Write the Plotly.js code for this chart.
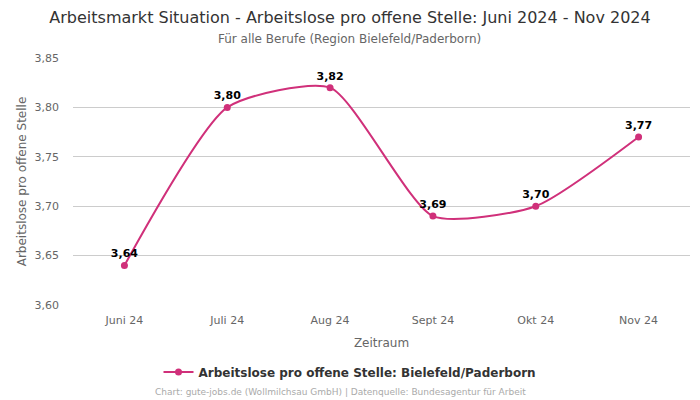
<!DOCTYPE html>
<html>
<head>
<meta charset="utf-8">
<script src="https://cdn.plot.ly/plotly-3.0.1.min.js"></script>
<style>html,body{margin:0;padding:0;background:#fff;}#chart{width:700px;height:400px;}</style>
</head>
<body>
<div id="chart"></div>
<script>
const categories = ["Juni 24", "Juli 24", "Aug 24", "Sept 24", "Okt 24", "Nov 24"];
const values = [3.64, 3.80, 3.82, 3.69, 3.70, 3.77];
const seriesName = "Arbeitslose pro offene Stelle: Bielefeld/Paderborn";
const yTicks = [3.60, 3.65, 3.70, 3.75, 3.80, 3.85];

const color = "#d0307a";
const font = "DejaVu Sans, sans-serif";

const trace = {
  x: categories,
  y: values,
  name: seriesName,
  type: "scatter",
  mode: "lines+markers+text",
  line: {color: color, width: 2, shape: "spline", smoothing: 0.6},
  marker: {color: color, size: 7},
  texttemplate: "%{y:.2f}",
  textposition: "top center",
  textfont: {family: font, size: 11, color: "#000", weight: "bold"},
  cliponaxis: false
};

const layout = {
  width: 700, height: 400,
  separators: ",.",
  font: {family: font, color: "#666"},
  paper_bgcolor: "#fff", plot_bgcolor: "#fff",
  margin: {l: 73, r: 10, t: 58, b: 95, autoexpand: false},
  title: {
    text: "Arbeitsmarkt Situation - Arbeitslose pro offene Stelle: Juni 2024 - Nov 2024",
    font: {family: font, size: 16, color: "#333"},
    x: 0.5, xanchor: "center", xref: "container",
    y: 1 - 17 / 400, yanchor: "middle", yref: "container"
  },
  xaxis: {
    type: "category",
    range: [-0.5, 5.5],
    showgrid: false,
    showline: false,
    ticks: "",
    ticklabelstandoff: 7,
    tickfont: {family: font, size: 11, color: "#666"},
    title: {text: "Zeitraum", font: {family: font, size: 12, color: "#666"}, standoff: 12}
  },
  yaxis: {
    range: [3.60, 3.85],
    tickvals: yTicks,
    tickformat: ".2f",
    showgrid: true,
    gridcolor: "#cccccc",
    zeroline: false,
    showline: false,
    ticks: "",
    ticklabelstandoff: 13,
    tickfont: {family: font, size: 11, color: "#666"},
    title: {text: "Arbeitslose pro offene Stelle", font: {family: font, size: 12, color: "#666"}, standoff: 5}
  },
  showlegend: true,
  legend: {
    orientation: "h",
    xref: "container", yref: "container",
    x: 0.5, xanchor: "center",
    y: 1 - 372 / 400, yanchor: "middle",
    font: {family: font, size: 12, color: "#333", weight: "bold"}
  },
  annotations: [{
    text: "Für alle Berufe (Region Bielefeld/Paderborn)",
    xref: "paper", yref: "paper",
    x: (349 - 73) / 617, xanchor: "center",
    y: 1, yanchor: "middle", yshift: 58 - 39,
    showarrow: false,
    font: {family: font, size: 12, color: "#666"}
  }, {
    text: "Chart: gute-jobs.de (Wollmilchsau GmbH) | Datenquelle: Bundesagentur für Arbeit",
    xref: "paper", yref: "paper",
    x: (340 - 73) / 617, xanchor: "center",
    y: 0, yanchor: "middle", yshift: -(392 - 305),
    showarrow: false,
    font: {family: font, size: 9, color: "#aaa"}
  }]
};

Plotly.newPlot("chart", [trace], layout, {displayModeBar: false, staticPlot: true});
</script>
</body>
</html>
